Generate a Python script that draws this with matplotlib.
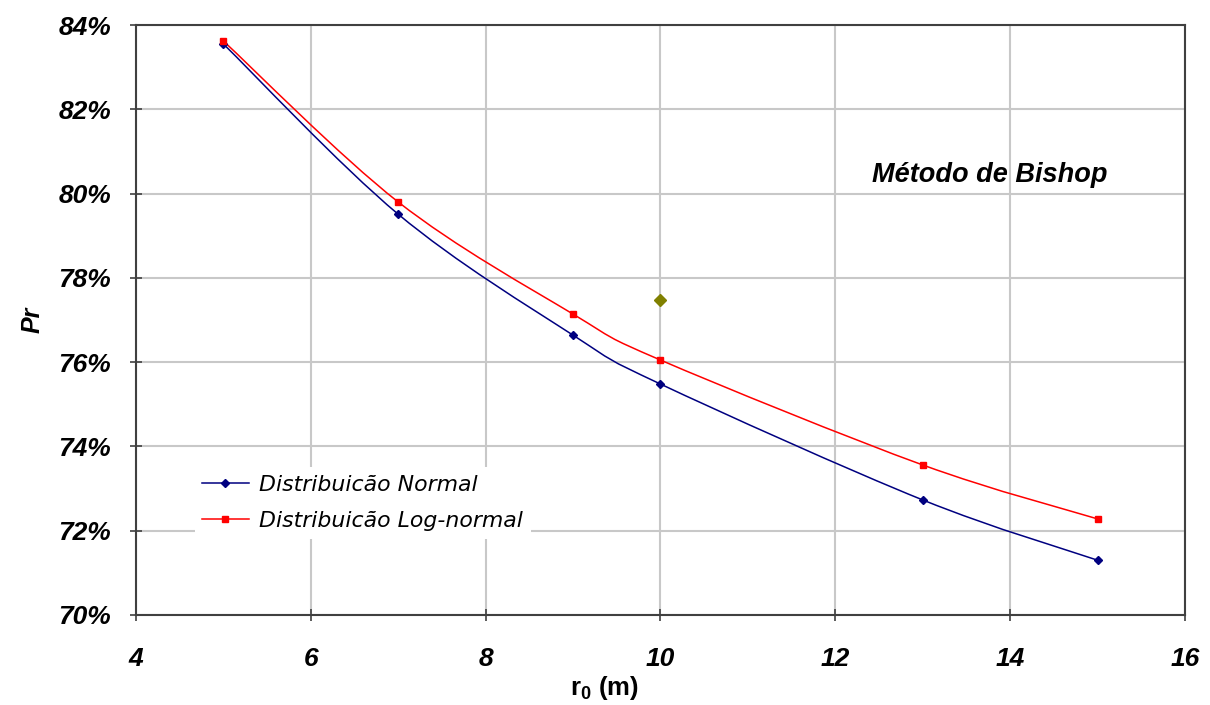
import numpy as np
import matplotlib
matplotlib.use("Agg")
from matplotlib import pyplot as plt
from matplotlib.path import Path
from matplotlib.patches import PathPatch
from matplotlib.lines import Line2D
from matplotlib.ticker import PercentFormatter, MultipleLocator

# data (Pr in %)
r0 = [5, 7, 9, 10, 13, 15]
pr_normal = [83.55, 79.51, 76.64, 75.48, 72.73, 71.30]
pr_lognormal = [83.62, 79.80, 77.14, 76.05, 73.56, 72.28]
extra_x = [10]
extra_y = [77.47]

labels = ["Distribuicão Normal", "Distribuicão Log-normal"]
title = "Método de Bishop"

plt.rcParams['font.family'] = ['Liberation Sans', 'DejaVu Sans']
plt.rcParams['mathtext.fontset'] = 'custom'
plt.rcParams['mathtext.bf'] = 'Liberation Sans:bold'
plt.rcParams['mathtext.rm'] = 'Liberation Sans:bold'


def smooth_path(x, y):
    # Excel style smoothed line: cubic bezier through the points
    p = np.column_stack([x, y]).astype(float)
    n = len(p)
    verts = [p[0]]
    codes = [Path.MOVETO]
    for i in range(n - 1):
        p_prev = p[i - 1] if i > 0 else p[i]
        p_next2 = p[i + 2] if i + 2 < n else p[i + 1]
        c1 = p[i] + (p[i + 1] - p_prev) / 6.0
        c2 = p[i + 1] - (p_next2 - p[i]) / 6.0
        verts += [c1, c2, p[i + 1]]
        codes += [Path.CURVE4] * 3
    return Path(verts, codes)


fig = plt.figure(figsize=(12.1, 7.05), dpi=100)
ax = fig.add_axes([0.1124, 0.1277, 0.8669, 0.8368])

blue = '#000080'
red = '#ff0000'

ax.add_patch(PathPatch(smooth_path(r0, pr_normal), fill=False, edgecolor=blue, lw=1.1, zorder=3))
ax.add_patch(PathPatch(smooth_path(r0, pr_lognormal), fill=False, edgecolor=red, lw=1.1, zorder=3))
ax.plot(r0, pr_normal, linestyle='none', marker='D', ms=4.5, color=blue, zorder=4)
ax.plot(r0, pr_lognormal, linestyle='none', marker='s', ms=5, color=red, zorder=4)
ax.plot(extra_x, extra_y, linestyle='none', marker='D', ms=6.5, color='#808000', zorder=4)

ax.set_xlim(4, 16)
ax.set_ylim(70, 84)
ax.xaxis.set_major_locator(MultipleLocator(2))
ax.yaxis.set_major_locator(MultipleLocator(2))
ax.yaxis.set_major_formatter(PercentFormatter(decimals=0))

ax.grid(True, color='#c8c8c8', lw=1.5)
ax.set_axisbelow(True)
for s in ax.spines.values():
    s.set_color('#404040')
    s.set_linewidth(1.5)

ax.tick_params(direction='inout', length=8, width=1.2, color='#404040')
ax.tick_params(axis='y', pad=14)
ax.tick_params(axis='x', pad=19)
for t in ax.get_xticklabels() + ax.get_yticklabels():
    t.set_fontsize(19)
    t.set_fontweight('bold')
    t.set_fontstyle('italic')

ax.set_xlabel(r'r$_{\mathbf{0}}$ (m)', fontsize=18.5, fontweight='bold')
ax.xaxis.set_label_coords(0.447, -0.124)
ax.xaxis.label.set_va('center')
ax.set_ylabel('Pr', fontsize=18, fontweight='bold', fontstyle='italic', labelpad=10)

ax.text(0.7016, 0.746, title, transform=ax.transAxes, fontsize=19.5,
        fontweight='bold', fontstyle='italic', va='center', ha='left')

handles = [Line2D([], [], color=blue, lw=1.1, marker='D', ms=4),
           Line2D([], [], color=red, lw=1.1, marker='s', ms=4.5)]
leg = ax.legend(handles, labels, loc='upper left', bbox_to_anchor=(0.056, 0.25),
                frameon=True, fancybox=False, edgecolor='none', facecolor='white',
                framealpha=1, handlelength=2.1, handletextpad=0.5, labelspacing=0.72,
                borderaxespad=0, borderpad=0.35,
                prop={'family': 'DejaVu Sans', 'style': 'italic', 'size': 15.8})

fig.savefig('out.png', dpi=100)
